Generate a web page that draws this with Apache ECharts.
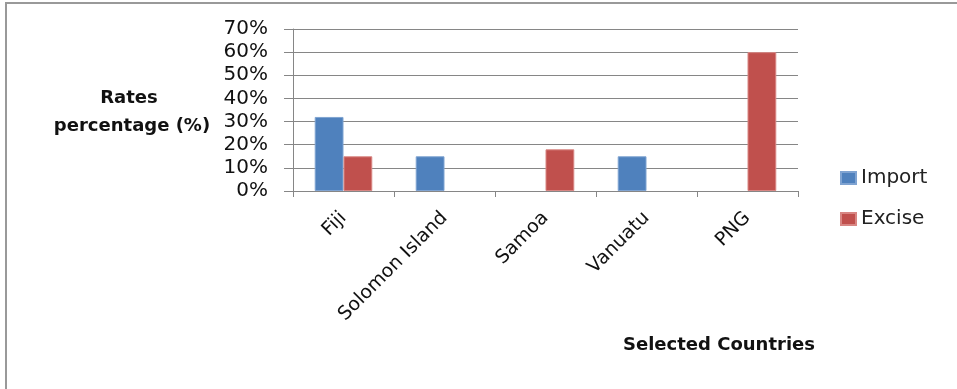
<!DOCTYPE html>
<html><head><meta charset="utf-8">
<script src="https://cdn.jsdelivr.net/npm/echarts@6/dist/echarts.min.js"></script>
<style>html,body{margin:0;padding:0;background:#fff}#c{width:957px;height:389px}</style>
</head><body><div id="c"></div>
<script>
const categories = ['Fiji', 'Solomon Island', 'Samoa', 'Vanuatu', 'PNG'];
const importRates = [32, 15, null, 15, null];
const exciseRates = [15, null, 18, null, 60];
const seriesNames = ['Import', 'Excise'];
const yTicks = [0, 10, 20, 30, 40, 50, 60, 70];

const FONT = 'DejaVu Sans';
const chart = echarts.init(document.getElementById('c'));
chart.setOption({
  animation: false,
  backgroundColor: '#fff',
  grid: { left: 293, right: 159, top: 29, bottom: 198, containLabel: false },
  legend: {
    orient: 'vertical', left: 835, top: 161, icon: 'rect',
    itemWidth: 15, itemHeight: 12, itemGap: 17,
    textStyle: { fontFamily: FONT, fontSize: 20, color: '#222', lineHeight: 24 },
    data: seriesNames
  },
  xAxis: {
    type: 'category', data: categories,
    axisLine: { lineStyle: { color: '#868686', width: 1 } },
    axisTick: { show: true, length: 6, lineStyle: { color: '#868686' } },
    axisLabel: { rotate: 45, margin: 24, fontFamily: FONT, fontSize: 19, color: '#111' }
  },
  yAxis: {
    type: 'value', min: yTicks[0], max: yTicks[yTicks.length - 1], interval: 10,
    axisLine: { show: true, lineStyle: { color: '#868686' } },
    axisTick: { show: true, length: 9, lineStyle: { color: '#868686' } },
    splitLine: { lineStyle: { color: '#868686', width: 1 } },
    axisLabel: { formatter: '{value}%', margin: 25, fontFamily: FONT, fontSize: 20, color: '#111' }
  },
  series: [
    { name: seriesNames[0], type: 'bar', data: importRates, barGap: '0%', barCategoryGap: '43%',
      itemStyle: { color: '#4F81BD', borderColor: '#7fa3d1', borderWidth: 1 } },
    { name: seriesNames[1], type: 'bar', data: exciseRates, barGap: '0%', barCategoryGap: '43%',
      itemStyle: { color: '#C0504D', borderColor: '#d88683', borderWidth: 1 } }
  ],
  graphic: [
    { type: 'line', shape: { x1: 5, y1: 3, x2: 957, y2: 3 }, style: { stroke: '#999', lineWidth: 2 } },
    { type: 'line', shape: { x1: 6, y1: 3, x2: 6, y2: 389 }, style: { stroke: '#999', lineWidth: 2 } },
    { type: 'text', x: 129, y: 98, style: { text: 'Rates', fontFamily: FONT, fontWeight: 'bold', fontSize: 18, fill: '#111', align: 'center', verticalAlign: 'middle' } },
    { type: 'text', x: 132, y: 126, style: { text: 'percentage (%)', fontFamily: FONT, fontWeight: 'bold', fontSize: 18, fill: '#111', align: 'center', verticalAlign: 'middle' } },
    { type: 'text', x: 719, y: 345, style: { text: 'Selected Countries', fontFamily: FONT, fontWeight: 'bold', fontSize: 18, fill: '#111', align: 'center', verticalAlign: 'middle' } }
  ]
});
</script></body></html>
